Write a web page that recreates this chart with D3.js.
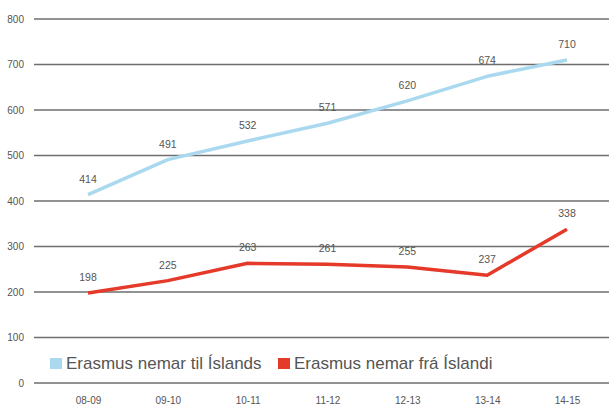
<!DOCTYPE html>
<html>
<head>
<meta charset="utf-8">
<script src="https://cdn.jsdelivr.net/npm/d3@7"></script>
<style>
  body { margin: 0; background: #fff; }
  text { font-family: "Liberation Sans", Arial, Helvetica, sans-serif; }
</style>
</head>
<body>
<div id="chart"></div>
<script>
// Data
var years = ["08-09", "09-10", "10-11", "11-12", "12-13", "13-14", "14-15"];
var tilIslands = [414, 491, 532, 571, 620, 674, 710];
var fraIslandi = [198, 225, 263, 261, 255, 237, 338];
var yTicks = [0, 100, 200, 300, 400, 500, 600, 700, 800];
var seriesNames = ["Erasmus nemar til Íslands", "Erasmus nemar frá Íslandi"];

var W = 609, H = 417;

var svg = d3.select("#chart")
    .append("svg")
    .attr("width", W)
    .attr("height", H);

// Scales
var x = d3.scalePoint()
    .domain(years)
    .range([88, 567]);

var y = d3.scaleLinear()
    .domain([0, 800])
    .range([383, 19]);

var color = d3.scaleOrdinal()
    .domain(seriesNames)
    .range(["#aad9ef", "#e5392a"]);

// Gridlines
svg.selectAll(".grid")
    .data(yTicks)
    .enter()
    .append("line")
    .attr("class", "grid")
    .attr("x1", 34)
    .attr("x2", W)
    .attr("y1", function(d) { return y(d); })
    .attr("y2", function(d) { return y(d); })
    .attr("stroke", "#6e6e6e")
    .attr("stroke-width", 1.5);

// Y axis labels
var yAxis = d3.axisLeft(y).tickValues(yTicks).tickSize(0).tickPadding(0);
svg.append("g")
    .attr("transform", "translate(24,0)")
    .call(yAxis)
    .call(function(g) { g.select(".domain").remove(); })
    .selectAll("text")
    .style("font-size", "10px")
    .style("font-family", "'Liberation Sans', Arial, sans-serif")
    .attr("fill", "#555");

// X axis labels
var xAxis = d3.axisBottom(x).tickSize(0).tickPadding(0);
svg.append("g")
    .attr("transform", "translate(0,397)")
    .call(xAxis)
    .call(function(g) { g.select(".domain").remove(); })
    .selectAll("text")
    .style("font-size", "10px")
    .style("font-family", "'Liberation Sans', Arial, sans-serif")
    .attr("fill", "#555");

// Lines
var line = d3.line()
    .x(function(d, i) { return x(years[i]); })
    .y(function(d) { return y(d); });

var allSeries = [tilIslands, fraIslandi];

allSeries.forEach(function(vals, k) {
    svg.append("path")
        .datum(vals)
        .attr("d", line)
        .attr("fill", "none")
        .attr("stroke", color(seriesNames[k]))
        .attr("stroke-width", 3.5)
        .attr("stroke-linejoin", "round");

    // Value labels
    svg.selectAll(".lbl" + k)
        .data(vals)
        .enter()
        .append("text")
        .attr("class", "lbl" + k)
        .attr("x", function(d, i) { return x(years[i]); })
        .attr("y", function(d) { return y(d) - 12; })
        .attr("text-anchor", "middle")
        .style("font-size", "10.5px")
        .attr("fill", "#555")
        .text(function(d) { return d; });
});

// Legend
var legend = svg.append("g")
    .attr("transform", "translate(50,357)");

var lx = [0, 228];
seriesNames.forEach(function(name, i) {
    var g = legend.append("g").attr("transform", "translate(" + lx[i] + ",0)");
    g.append("rect")
        .attr("x", 0)
        .attr("y", 1)
        .attr("width", 12)
        .attr("height", 11)
        .attr("fill", color(name));
    g.append("text")
        .attr("x", 16)
        .attr("y", 12)
        .style("font-size", "17px")
        .attr("fill", "#555")
        .text(name);
});
</script>
</body>
</html>
